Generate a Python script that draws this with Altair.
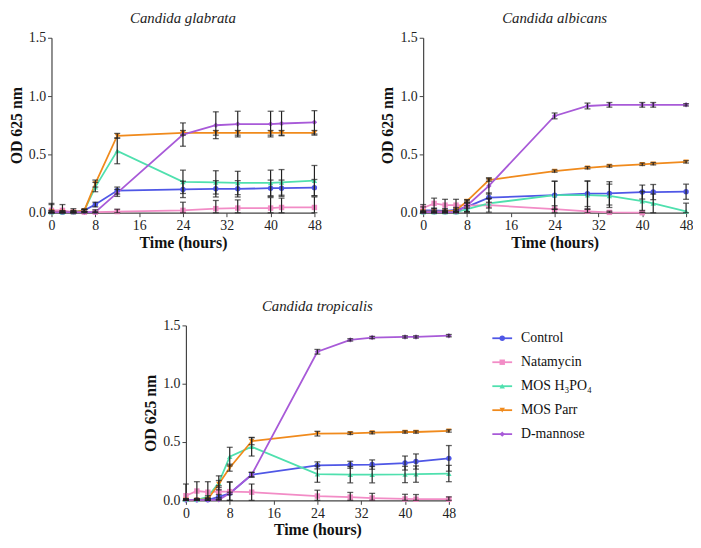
import altair as alt
import pandas as pd

times = [0, 2, 4, 6, 8, 12, 24, 30, 34, 40, 42, 48]
series_names = ["Control", "Natamycin", "MOS H₃PO₄", "MOS Parr", "D-mannose"]
series_colors = ["#4F57E6", "#F28CC6", "#4FE0AE", "#F08A1C", "#A85AD8"]
series_shapes = ["circle", "square", "triangle-up", "triangle-down", "diamond"]
panel_titles = ["Candida glabrata", "Candida albicans", "Candida tropicalis"]

# ---- Candida glabrata ----
gla_control = [0.02, 0.005, 0.005, 0.02, 0.07, 0.19, 0.20, 0.205, 0.205, 0.21, 0.21, 0.215]
gla_control_err = [0.06, 0.01, 0.01, 0.01, 0.02, 0.03, 0.07, 0.07, 0.07, 0.07, 0.07, 0.07]
gla_natamycin = [0.02, 0.02, 0.005, 0.005, 0.005, 0.01, 0.02, 0.035, 0.04, 0.04, 0.045, 0.045]
gla_natamycin_err = [0.05, 0.05, 0.03, 0.02, 0.02, 0.02, 0.07, 0.07, 0.07, 0.09, 0.08, 0.09]
gla_mos_h3po4 = [0.005, 0.005, 0.005, 0.02, 0.22, 0.53, 0.265, 0.26, 0.255, 0.255, 0.26, 0.275]
gla_mos_h3po4_err = [0.01, 0.01, 0.01, 0.01, 0.04, 0.11, 0.10, 0.10, 0.10, 0.11, 0.11, 0.13]
gla_mos_parr = [0.01, 0.005, 0.005, 0.02, 0.25, 0.66, 0.685, 0.685, 0.685, 0.685, 0.685, 0.685]
gla_mos_parr_err = [0.01, 0.01, 0.01, 0.01, 0.03, 0.02, 0.02, 0.02, 0.02, 0.02, 0.02, 0.02]
gla_dmannose = [0.005, 0.005, 0.005, 0.005, 0.005, 0.17, 0.67, 0.75, 0.76, 0.76, 0.765, 0.775]
gla_dmannose_err = [0.005, 0.005, 0.005, 0.005, 0.005, 0.03, 0.10, 0.115, 0.11, 0.11, 0.105, 0.10]

# ---- Candida albicans ----
alb_control = [0.02, 0.02, 0.015, 0.025, 0.05, 0.13, 0.15, 0.163, 0.166, 0.177, 0.177, 0.18]
alb_control_err = [0.03, 0.02, 0.02, 0.02, 0.04, 0.04, 0.12, 0.11, 0.10, 0.06, 0.065, 0.065]
alb_natamycin = [0.04, 0.08, 0.065, 0.065, 0.06, 0.065, 0.03, 0.012, 0.003, 0.0, None, None]
alb_natamycin_err = [0.03, 0.045, 0.05, 0.05, 0.05, 0.06, 0.03, 0.02, 0.01, 0.005, None, None]
alb_mos_h3po4 = [0.005, 0.005, 0.005, 0.005, 0.03, 0.08, 0.15, 0.15, 0.145, 0.10, 0.08, 0.012]
alb_mos_h3po4_err = [0.005, 0.005, 0.005, 0.005, 0.03, 0.04, 0.12, 0.12, 0.10, 0.08, 0.08, 0.07]
alb_mos_parr = [0.01, 0.01, 0.01, 0.02, 0.10, 0.28, 0.357, 0.385, 0.40, 0.415, 0.42, 0.436]
alb_mos_parr_err = [0.01, 0.01, 0.01, 0.01, 0.01, 0.01, 0.01, 0.01, 0.01, 0.01, 0.01, 0.01]
alb_dmannose = [0.005, 0.005, 0.005, 0.005, 0.06, 0.23, 0.83, 0.915, 0.925, 0.925, 0.925, 0.925]
alb_dmannose_err = [0.005, 0.005, 0.005, 0.005, 0.02, 0.07, 0.025, 0.025, 0.02, 0.02, 0.02, 0.01]

# ---- Candida tropicalis ----
tro_control = [0.005, 0.005, 0.005, 0.03, 0.06, 0.22, 0.30, 0.305, 0.307, 0.32, 0.333, 0.36]
tro_control_err = [0.01, 0.01, 0.01, 0.02, 0.10, 0.02, 0.03, 0.03, 0.04, 0.06, 0.065, 0.11]
tro_natamycin = [0.04, 0.08, 0.07, 0.075, 0.075, 0.07, 0.037, 0.028, 0.02, 0.012, 0.01, 0.01]
tro_natamycin_err = [0.10, 0.08, 0.09, 0.05, 0.08, 0.07, 0.05, 0.04, 0.04, 0.04, 0.04, 0.02]
tro_mos_h3po4 = [0.005, 0.005, 0.03, 0.15, 0.375, 0.46, 0.225, 0.22, 0.22, 0.222, 0.225, 0.23]
tro_mos_h3po4_err = [0.005, 0.005, 0.01, 0.06, 0.08, 0.08, 0.07, 0.07, 0.07, 0.07, 0.07, 0.07]
tro_mos_parr = [0.005, 0.005, 0.01, 0.14, 0.28, 0.507, 0.572, 0.575, 0.58, 0.586, 0.586, 0.595]
tro_mos_parr_err = [0.005, 0.005, 0.01, 0.03, 0.03, 0.03, 0.02, 0.01, 0.01, 0.01, 0.01, 0.01]
tro_dmannose = [0.005, 0.005, 0.005, 0.005, 0.06, 0.22, 1.274, 1.376, 1.396, 1.401, 1.401, 1.412]
tro_dmannose_err = [0.005, 0.005, 0.005, 0.005, 0.01, 0.02, 0.02, 0.01, 0.01, 0.01, 0.01, 0.01]

panels = {
    "Candida glabrata": [
        (gla_control, gla_control_err), (gla_natamycin, gla_natamycin_err),
        (gla_mos_h3po4, gla_mos_h3po4_err), (gla_mos_parr, gla_mos_parr_err),
        (gla_dmannose, gla_dmannose_err)],
    "Candida albicans": [
        (alb_control, alb_control_err), (alb_natamycin, alb_natamycin_err),
        (alb_mos_h3po4, alb_mos_h3po4_err), (alb_mos_parr, alb_mos_parr_err),
        (alb_dmannose, alb_dmannose_err)],
    "Candida tropicalis": [
        (tro_control, tro_control_err), (tro_natamycin, tro_natamycin_err),
        (tro_mos_h3po4, tro_mos_h3po4_err), (tro_mos_parr, tro_mos_parr_err),
        (tro_dmannose, tro_dmannose_err)],
}

FONT = "'Times New Roman', 'Liberation Serif', 'DejaVu Serif', serif"
W, H = 266, 177

color_scale = alt.Scale(domain=series_names, range=series_colors)
shape_scale = alt.Scale(domain=series_names, range=series_shapes)


def make_df(name):
    rows = []
    for sname, (vals, errs) in zip(series_names, panels[name]):
        for t, v, e in zip(times, vals, errs):
            if v is None:
                continue
            rows.append({"time": t, "value": v, "series": sname,
                         "lo": max(0.0, v - e), "hi": v + e})
    return pd.DataFrame(rows)


def make_panel(name):
    df = make_df(name)
    base = alt.Chart(df)
    x = alt.X("time:Q", scale=alt.Scale(domain=[0, 48], nice=False),
              axis=alt.Axis(values=[0, 8, 16, 24, 32, 40, 48], title="Time (hours)",
                            labelFlush=False, titlePadding=2))
    y = alt.Y("value:Q", scale=alt.Scale(domain=[0, 1.5], nice=False),
              axis=alt.Axis(values=[0, 0.5, 1.0, 1.5], format=".1f", title="OD 625 nm"))
    color = alt.Color("series:N", scale=color_scale, legend=None)
    shape = alt.Shape("series:N", scale=shape_scale, legend=None)
    lines = base.mark_line(strokeWidth=1.8).encode(x=x, y=y, color=color)
    err_rule = base.mark_rule(color="#222", strokeWidth=1.2).encode(
        x="time:Q", y=alt.Y("lo:Q", title="OD 625 nm"), y2="hi:Q")
    err_top = base.mark_tick(color="#222", orient="horizontal", size=6, thickness=1.3).encode(
        x="time:Q", y=alt.Y("hi:Q", title="OD 625 nm"))
    err_bot = base.mark_tick(color="#222", orient="horizontal", size=6, thickness=1.3).encode(
        x="time:Q", y=alt.Y("lo:Q", title="OD 625 nm"))
    pts = base.mark_point(filled=True, size=30, opacity=1).encode(
        x=x, y=y, color=color, shape=shape)
    return alt.layer(lines, pts, err_rule, err_top, err_bot).properties(
        width=W, height=H,
        title=alt.TitleParams(name, font=FONT, fontStyle="italic", fontSize=15,
                              fontWeight="normal", color="#222", offset=5))


p1 = make_panel(panel_titles[0])
p2 = make_panel(panel_titles[1])
p3 = make_panel(panel_titles[2])

spacer = alt.Chart(pd.DataFrame({"v": [0]})).mark_point(size=0, opacity=0).encode(
    x=alt.value(0), y=alt.value(0)).properties(width=32, height=10)

legend_df = pd.DataFrame({"series": series_names, "idx": list(range(len(series_names)))})
lbase = alt.Chart(legend_df).encode(
    y=alt.Y("idx:Q", scale=alt.Scale(domain=[0, 4], range=[13, 110]), axis=None))
lcolor = alt.Color("series:N", scale=color_scale, legend=None)
lrule = lbase.mark_rule(strokeWidth=1.8).encode(x=alt.value(0), x2=alt.value(20), color=lcolor)
lpts = lbase.mark_point(filled=True, size=30, opacity=1).encode(
    x=alt.value(10), color=lcolor, shape=alt.Shape("series:N", scale=shape_scale, legend=None))
ltxt = lbase.mark_text(align="left", baseline="middle", font=FONT, fontSize=14, color="#111").encode(
    x=alt.value(29), text="series:N")
legend = alt.layer(lrule, lpts, ltxt).properties(width=110, height=150)

top = alt.hconcat(p1, p2, spacing=59)
bottom = alt.hconcat(spacer, alt.hconcat(p3, legend, spacing=36), spacing=60)

chart = alt.vconcat(top, bottom, spacing=49).properties(padding=0).configure_view(
    stroke=None
).configure_axis(
    labelFont=FONT, labelFontSize=14, labelColor="#222",
    titleFont=FONT, titleFontSize=16, titleFontWeight="bold", titleColor="#111",
    domainColor="#444", tickColor="#444", tickSize=4, labelPadding=2,
    grid=False, titlePadding=4, domainWidth=1.2,
)

chart.save("out.html", embed_options={"renderer": "svg", "actions": False})
